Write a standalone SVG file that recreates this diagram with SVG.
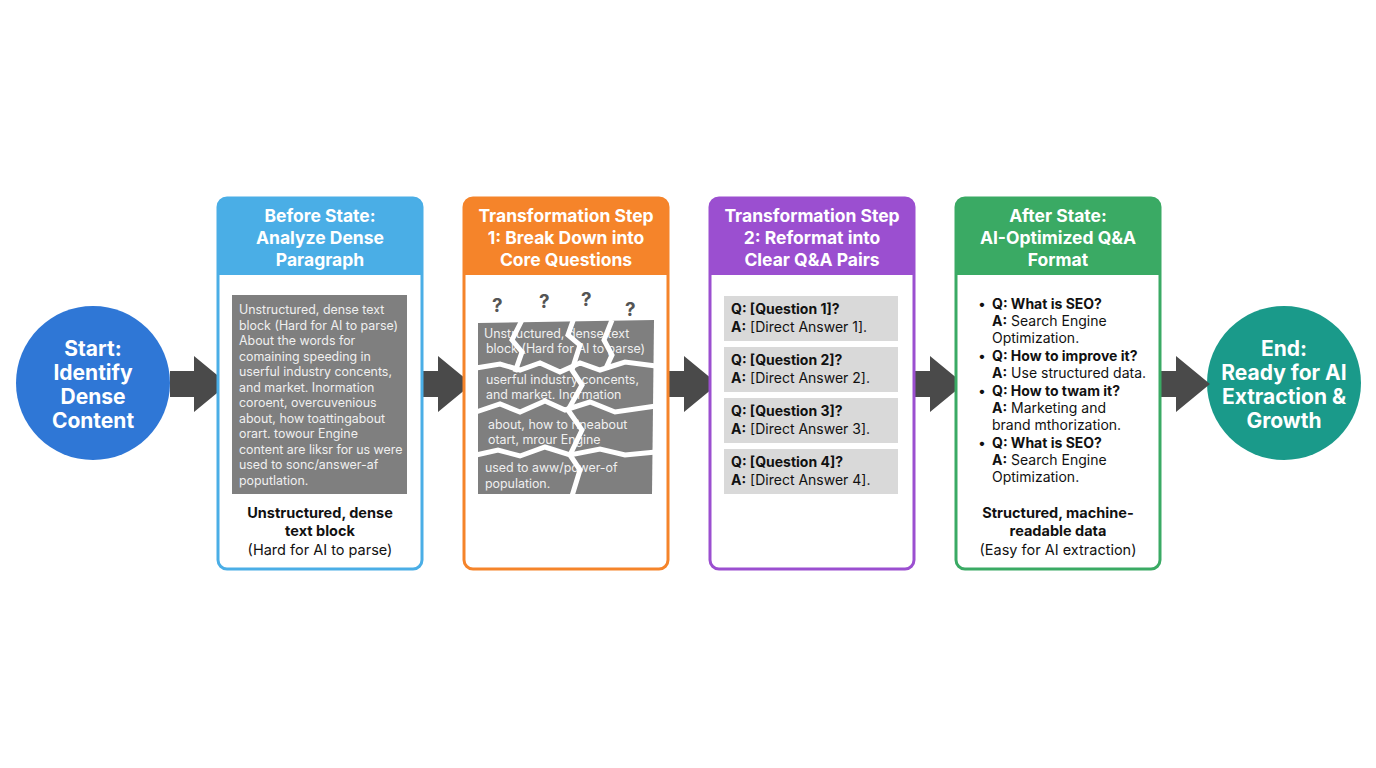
<svg xmlns="http://www.w3.org/2000/svg" width="1376" height="768" viewBox="0 0 1376 768">
<style>
text{font-family:Inter,"Liberation Sans",sans-serif}
.h{font-size:17.5px;font-weight:700;fill:#fff;text-anchor:middle}
.c{font-size:21px;font-weight:700;fill:#fff;text-anchor:middle}
.g{font-size:12.4px;fill:#f0f0f0}
.q{font-size:14px;fill:#111}
.b{font-weight:700}
.cap{font-size:14.5px;fill:#111;text-anchor:middle}
.ar{fill:#4a4a4a}
.crack{fill:none;stroke:#fff;stroke-width:5;stroke-linejoin:miter}
</style>
<rect width="1376" height="768" fill="#fff"/>
<g id="start"><circle cx="93" cy="383" r="77" fill="#2f77d6"/>
<text class="c" x="93" y="356">Start:</text><text class="c" x="93" y="380">Identify</text><text class="c" x="93" y="404">Dense</text><text class="c" x="93" y="428">Content</text></g>
<g id="end"><circle cx="1284" cy="383" r="77" fill="#1a9a8a"/>
<text class="c" x="1284" y="356">End:</text><text class="c" x="1284" y="380">Ready for AI</text><text class="c" x="1284" y="404">Extraction &amp;</text><text class="c" x="1284" y="428">Growth</text></g>
<g id="connectors">
<polygon class="ar" points="170,371 194,371 194,356 228,384 194,412 194,397 170,397"/>
<polygon class="ar" points="414,371 438,371 438,356 472,384 438,412 438,397 414,397"/>
<polygon class="ar" points="660,371 684,371 684,356 718,384 684,412 684,397 660,397"/>
<polygon class="ar" points="906,371 930,371 930,356 964,384 930,412 930,397 906,397"/>
<polygon class="ar" points="1152,371 1176,371 1176,356 1210,384 1176,412 1176,397 1152,397"/>
</g>
<g id="before">
<rect x="218" y="198" width="204" height="371" rx="9" fill="#fff" stroke="#4aaee6" stroke-width="3"/>
<path d="M218,275 V207 a9,9 0 0 1 9,-9 H413 a9,9 0 0 1 9,9 V275 Z" fill="#4aaee6"/>
<text class="h" x="320" y="222">Before State:</text><text class="h" x="320" y="244">Analyze Dense</text><text class="h" x="320" y="266">Paragraph</text>
<rect x="232" y="295" width="175" height="199" fill="#7f7f7f"/>
<text class="g" x="239" y="314">Unstructured, dense text</text>
<text class="g" x="239" y="330">block (Hard for AI to parse)</text>
<text class="g" x="239" y="345">About the words for</text>
<text class="g" x="239" y="361">comaining speeding in</text>
<text class="g" x="239" y="376">userful industry concents,</text>
<text class="g" x="239" y="392">and market. Inormation</text>
<text class="g" x="239" y="407">coroent, overcuvenious</text>
<text class="g" x="239" y="423">about, how toattingabout</text>
<text class="g" x="239" y="438">orart. towour Engine</text>
<text class="g" x="239" y="454">content are liksr for us were</text>
<text class="g" x="239" y="469">used to sonc/answer-af</text>
<text class="g" x="239" y="485">poputlation.</text>
<text class="cap b" x="320" y="518">Unstructured, dense</text><text class="cap b" x="320" y="536">text block</text><text class="cap" x="320" y="555">(Hard for AI to parse)</text>
</g>
<g id="step1">
<rect x="464" y="198" width="204" height="371" rx="9" fill="#fff" stroke="#f5842a" stroke-width="3"/>
<path d="M464,275 V207 a9,9 0 0 1 9,-9 H659 a9,9 0 0 1 9,9 V275 Z" fill="#f5842a"/>
<text class="h" x="566" y="222">Transformation Step</text><text class="h" x="566" y="244">1: Break Down into</text><text class="h" x="566" y="266">Core Questions</text>
<g font-size="19" font-weight="700" fill="#555"><text x="492" y="312">?</text><text x="539" y="308">?</text><text x="581" y="306">?</text><text x="625" y="316">?</text></g>
<polygon points="478,323 654,320 652,494 478,494" fill="#7f7f7f"/>
<text class="g" x="484" y="338">Unstructured, dense text</text>
<text class="g" x="486" y="353">block (Hard for AI to parse)</text>
<text class="g" x="486" y="384">userful industry concents,</text>
<text class="g" x="486" y="399">and market. Inormation</text>
<text class="g" x="488" y="429">about, how to rineabout</text>
<text class="g" x="488" y="444">otart, mrour Engine</text>
<text class="g" x="485" y="472">used to aww/power-of</text>
<text class="g" x="485" y="488">population.</text>
<path class="crack" d="M476,368 500,364 520,370 540,363 560,372 580,363 600,370 625,362 656,366"/>
<path class="crack" d="M476,412 500,404 520,412 545,401 565,410 590,402 615,412 656,406"/>
<path class="crack" d="M476,455 498,450 520,456 545,447 570,455 600,449 625,455 656,452"/>
<path class="crack" d="M522,320 512,340 522,352 515,372"/>
<path class="crack" d="M574,318 568,335 580,345 572,370 582,385 568,410 582,430 570,455 580,470 572,496"/>
<path class="crack" d="M612,320 604,340 612,355 606,368"/>
</g>
<g id="step2">
<rect x="710" y="198" width="204" height="371" rx="9" fill="#fff" stroke="#9b4fd0" stroke-width="3"/>
<path d="M710,275 V207 a9,9 0 0 1 9,-9 H905 a9,9 0 0 1 9,9 V275 Z" fill="#9b4fd0"/>
<text class="h" x="812" y="222">Transformation Step</text><text class="h" x="812" y="244">2: Reformat into</text><text class="h" x="812" y="266">Clear Q&amp;A Pairs</text>
<rect x="724" y="296" width="174" height="45" fill="#d9d9d9"/>
<rect x="724" y="347" width="174" height="45" fill="#d9d9d9"/>
<rect x="724" y="398" width="174" height="45" fill="#d9d9d9"/>
<rect x="724" y="449" width="174" height="45" fill="#d9d9d9"/>
<text class="q" x="731" y="314"><tspan class="b">Q: [Question 1]?</tspan></text><text class="q" x="731" y="332"><tspan class="b">A:</tspan> [Direct Answer 1].</text>
<text class="q" x="731" y="365"><tspan class="b">Q: [Question 2]?</tspan></text><text class="q" x="731" y="383"><tspan class="b">A:</tspan> [Direct Answer 2].</text>
<text class="q" x="731" y="416"><tspan class="b">Q: [Question 3]?</tspan></text><text class="q" x="731" y="434"><tspan class="b">A:</tspan> [Direct Answer 3].</text>
<text class="q" x="731" y="467"><tspan class="b">Q: [Question 4]?</tspan></text><text class="q" x="731" y="485"><tspan class="b">A:</tspan> [Direct Answer 4].</text>
</g>
<g id="after">
<rect x="956" y="198" width="204" height="371" rx="9" fill="#fff" stroke="#3aaa64" stroke-width="3"/>
<path d="M956,275 V207 a9,9 0 0 1 9,-9 H1151 a9,9 0 0 1 9,9 V275 Z" fill="#3aaa64"/>
<text class="h" x="1058" y="222">After State:</text><text class="h" x="1058" y="244">AI-Optimized Q&amp;A</text><text class="h" x="1058" y="266">Format</text>
<g class="q">
<text x="978" y="309">•</text><text x="992" y="309" class="b">Q: What is SEO?</text>
<text x="992" y="326"><tspan class="b">A:</tspan> Search Engine</text><text x="992" y="343">Optimization.</text>
<text x="978" y="361">•</text><text x="992" y="361" class="b">Q: How to improve it?</text>
<text x="992" y="378"><tspan class="b">A:</tspan> Use structured data.</text>
<text x="978" y="396">•</text><text x="992" y="396" class="b">Q: How to twam it?</text>
<text x="992" y="413"><tspan class="b">A:</tspan> Marketing and</text><text x="992" y="430">brand mthorization.</text>
<text x="978" y="448">•</text><text x="992" y="448" class="b">Q: What is SEO?</text>
<text x="992" y="465"><tspan class="b">A:</tspan> Search Engine</text><text x="992" y="482">Optimization.</text>
</g>
<text class="cap b" x="1058" y="518">Structured, machine-</text><text class="cap b" x="1058" y="536">readable data</text><text class="cap" x="1058" y="555">(Easy for AI extraction)</text>
</g>
</svg>
